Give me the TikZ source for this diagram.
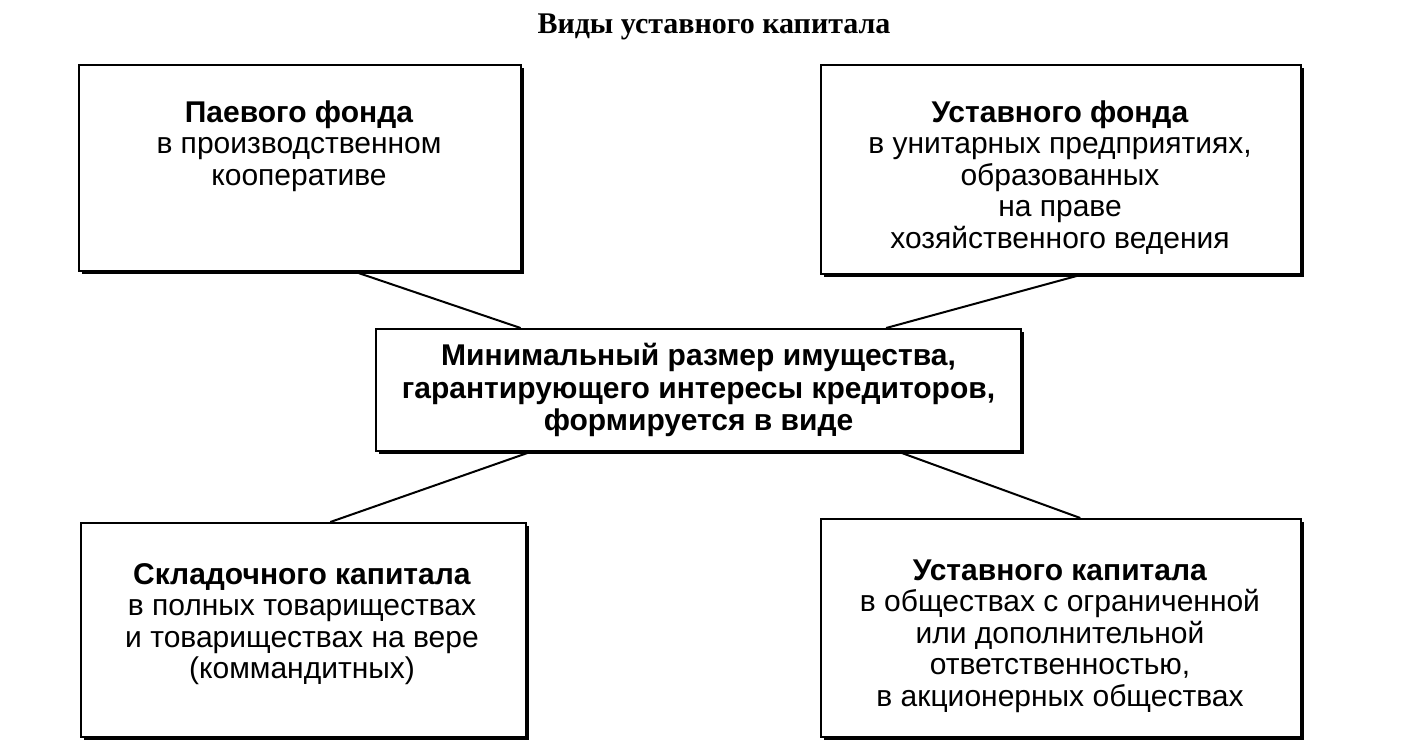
\documentclass[tikz,border=0pt]{standalone}
\usepackage{fontspec}
\setmainfont{Liberation Sans}
\newfontfamily\serif{Liberation Serif}
\usetikzlibrary{shadows,calc}
\begin{document}
\begin{tikzpicture}[x=1pt,y=-1pt,
  box/.style={draw,line width=2pt,fill=white,align=center,inner sep=0pt,
    font=\fontsize{30}{32}\selectfont,
    drop shadow={shadow xshift=3pt,shadow yshift=-3pt,fill=black,opacity=1}},
  txt/.style={font=\fontsize{30}{31.5}\selectfont,align=center,anchor=north},
  conn/.style={line width=2pt}]
\useasboundingbox (0,0) rectangle (1428,750);
\node[font=\serif\bfseries\fontsize{30}{34}\selectfont] (title) at (714,27) {Виды уставного капитала};
\node[box,minimum width=442pt,minimum height=206pt,anchor=north west] (tl) at (78,64) {};
\node[txt] (tlt) at (299,97) {\textbf{Паевого фонда}\\в производственном\\кооперативе};
\node[box,minimum width=480pt,minimum height=209pt,anchor=north west] (tr) at (820,64) {};
\node[txt] (trt) at (1060,97) {\textbf{Уставного фонда}\\в унитарных предприятиях,\\образованных\\на праве\\хозяйственного ведения};
\node[box,minimum width=645pt,minimum height=122pt,anchor=north west,font=\bfseries\fontsize{30}{32.5}\selectfont] (c) at (375,328) {Минимальный размер имущества,\\гарантирующего интересы кредиторов,\\формируется в виде};
\node[box,minimum width=445pt,minimum height=214pt,anchor=north west] (bl) at (80,522) {};
\node[txt] (blt) at (302,560) {\textbf{Складочного капитала}\\в полных товариществах\\и товариществах на вере\\(коммандитных)};
\node[box,minimum width=480pt,minimum height=218pt,anchor=north west] (br) at (820,518) {};
\node[txt] (brt) at (1060,556) {\textbf{Уставного капитала}\\в обществах с ограниченной\\или дополнительной\\ответственностью,\\в акционерных обществах};
\draw[conn] ($(tl.south west)!0.625!(tl.south east)$) -- ($(c.north west)!0.225!(c.north east)$);
\draw[conn] ($(tr.south west)!0.54!(tr.south east)$) -- ($(c.north west)!0.79!(c.north east)$);
\draw[conn] ($(bl.north west)!0.56!(bl.north east)$) -- ($(c.south west)!0.24!(c.south east)$);
\draw[conn] ($(br.north west)!0.54!(br.north east)$) -- ($(c.south west)!0.81!(c.south east)$);
\end{tikzpicture}
\end{document}
